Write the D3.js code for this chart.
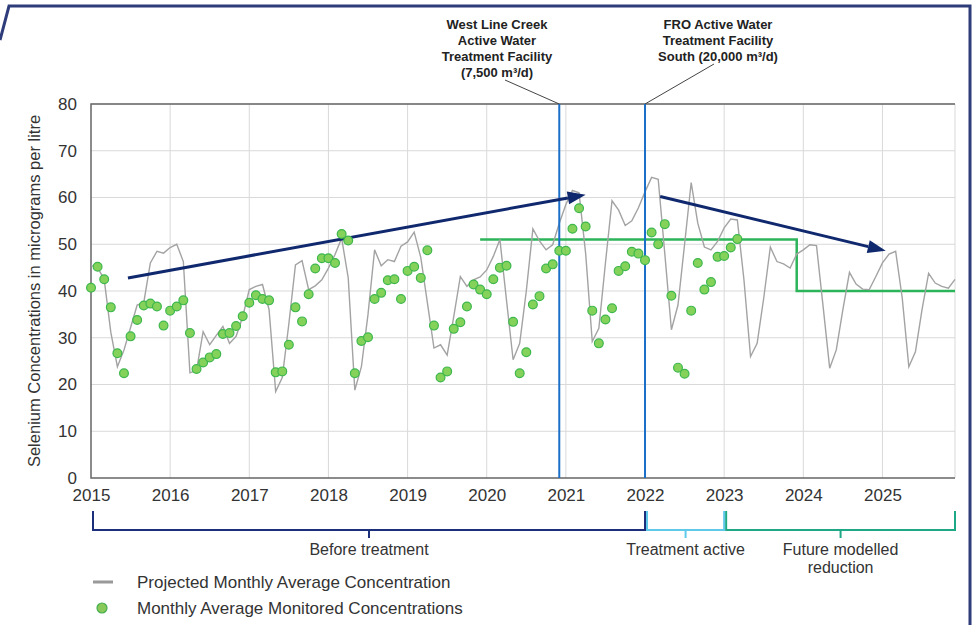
<!DOCTYPE html>
<html>
<head>
<meta charset="utf-8">
<script src="https://cdn.jsdelivr.net/npm/d3@7"></script>
<style>
  html, body { margin: 0; padding: 0; background: #fff; }
  svg { display: block; font-family: "Liberation Sans", Arial, sans-serif; }
</style>
</head>
<body>
<div id="chart"></div>
<script>
// month index 0 = Jan 2015
const years = [2015, 2016, 2017, 2018, 2019, 2020, 2021, 2022, 2023, 2024, 2025];
const yTicks = [0, 10, 20, 30, 40, 50, 60, 70, 80];

// Projected Monthly Average Concentration (Jan 2015 - Dec 2025)
const projected = [
  45.5, 45, 42.5, 31.2, 23.8, 27.4, 32.2, 37, 37.5, 46, 48.5, 48.1,
  49.3, 50, 46.3, 22.5, 23, 31.3, 28.5, 30.5, 32.4, 28.8, 30.3, 34.5,
  40.3, 41, 41.4, 36, 18.5, 21.5, 33, 45.6, 46.5, 40.3, 41.1, 42.4,
  44.9, 47.8, 51.3, 42.8, 18.8, 23.8, 35, 48.8, 45.4, 46.7, 46.3, 49.6,
  50.5, 52.6, 47.2, 37.5, 27.8, 28.5, 26.3, 34.5, 43.1, 41, 42.4, 43,
  44.5, 47.4, 51, 38, 25.3, 28.8, 40, 53.3, 50.7, 48.8, 49.9, 54.5,
  58.5, 61.5, 61, 48, 29.2, 32, 46, 59.3, 57.3, 54, 55, 57.8,
  61.2, 64.3, 63.9, 48, 31.7, 37, 50, 63.2, 54.5, 49.4, 48.8, 50.6,
  53.5, 55.4, 55.2, 42.4, 26, 28.8, 38.5, 49.4, 46.3, 45.8, 44.9, 47.9,
  48.8, 49.9, 49.7, 36.7, 23.5, 27.4, 36, 44, 41.5, 40.4, 40.3, 43.1,
  46, 47.9, 48.5, 38.5, 23.8, 27, 36, 43.8, 41.7, 41, 40.6, 42.5
];

// Monthly Average Monitored Concentrations (Jan 2015 - Mar 2023)
const monitored = [
  40.7, 45.2, 42.5, 36.5, 26.7, 22.4, 30.3, 33.8, 36.9, 37.3, 36.7, 32.6,
  35.8, 36.7, 38.0, 31.0, 23.3, 24.7, 25.8, 26.5, 30.8, 31.0, 32.5, 34.6,
  37.5, 39.1, 38.3, 38.0, 22.6, 22.8, 28.5, 36.5, 33.5, 39.3, 44.8, 47.0,
  47.0, 46.0, 52.2, 50.8, 22.4, 29.3, 30.1, 38.3, 39.6, 42.3, 42.5, 38.3,
  44.3, 45.2, 42.8, 48.7, 32.6, 21.5, 22.8, 31.9, 33.3, 36.7, 41.4, 40.3,
  39.3, 42.5, 45.0, 45.4, 33.4, 22.4, 26.9, 37.1, 38.9, 44.8, 45.7, 48.6,
  48.6, 53.3, 57.7, 53.8, 35.8, 28.8, 33.9, 36.3, 44.3, 45.3, 48.4, 48.0,
  46.6, 52.5, 50.0, 54.3, 39.0, 23.6, 22.3, 35.8, 46.0, 40.3, 41.9, 47.3,
  47.5, 49.3, 51.1
];

// stepped target line
const targetMonths = [59, 107, 107, 131];
const targetValues = [51, 51, 40, 40];

// treatment facilities coming online
const facilityMonths = [71, 84];
const facilityLabels = [
  ["West Line Creek", "Active Water", "Treatment Facility", "(7,500 m³/d)"],
  ["FRO Active Water", "Treatment Facility", "South (20,000 m³/d)"]
];

// trend arrows [month, value]
const arrowStarts = [[5.6, 42.8], [86.3, 60.2]];
const arrowEnds = [[75, 60.6], [120.5, 48.6]];

// phases under the axis
const phaseNames = [["Before treatment"], ["Treatment active"], ["Future modelled", "reduction"]];
const phaseStarts = [0, 84, 96];
const phaseEnds = [84, 96, 131];
const phaseColors = ["#1c2f7c", "#5fc9ea", "#1fa886"];

const W = 976, H = 625;
const svg = d3.select("#chart").append("svg")
  .attr("width", W).attr("height", H);

const x = d3.scaleLinear().domain([0, 131]).range([91, 955]);
const y = d3.scaleLinear().domain([0, 80]).range([478, 104]);

// outer callout frame
const frameColor = "#2e3d7a";
svg.append("path")
  .attr("d", `M0,40 L9,6 L970,6 L970,${H}`)
  .attr("fill", "none")
  .attr("stroke", frameColor)
  .attr("stroke-width", 3);

// gridlines
svg.append("g").selectAll("line")
  .data(yTicks.slice(1))
  .join("line")
  .attr("x1", x(0)).attr("x2", x(131))
  .attr("y1", d => y(d)).attr("y2", d => y(d))
  .attr("stroke", "#d9d9d9").attr("stroke-width", 1);

svg.append("g").selectAll("line")
  .data(years.slice(1).map(yr => (yr - 2015) * 12).concat([131]))
  .join("line")
  .attr("x1", d => x(d)).attr("x2", d => x(d))
  .attr("y1", y(0)).attr("y2", y(80))
  .attr("stroke", "#d9d9d9").attr("stroke-width", 1);

// plot frame (left, top, bottom darker)
svg.append("path")
  .attr("d", `M${x(131)},${y(80)} L${x(0)},${y(80)} L${x(0)},${y(0)} L${x(131)},${y(0)}`)
  .attr("fill", "none")
  .attr("stroke", "#666")
  .attr("stroke-width", 1.5);

// axes labels
const yAxis = d3.axisLeft(y).tickValues(yTicks).tickSize(0).tickPadding(14);
svg.append("g")
  .attr("transform", `translate(${x(0)},0)`)
  .call(yAxis)
  .call(g => g.select(".domain").remove())
  .selectAll("text")
  .attr("font-size", 17)
  .attr("fill", "#333")
  .attr("font-family", "Liberation Sans, Arial, sans-serif");

const xAxis = d3.axisBottom(x)
  .tickValues(years.map(yr => (yr - 2015) * 12))
  .tickFormat((d, i) => years[i])
  .tickSize(0).tickPadding(11);
svg.append("g")
  .attr("transform", `translate(0,${y(0)})`)
  .call(xAxis)
  .call(g => g.select(".domain").remove())
  .selectAll("text")
  .attr("font-size", 17)
  .attr("fill", "#333")
  .attr("font-family", "Liberation Sans, Arial, sans-serif");

svg.append("text")
  .attr("transform", `translate(40,${(y(0) + y(80)) / 2}) rotate(-90)`)
  .attr("text-anchor", "middle")
  .attr("font-size", 16.5)
  .attr("fill", "#333")
  .text("Selenium Concentrations in micrograms per litre");

// target step line
const targetPts = targetMonths.map((m, i) => [m, targetValues[i]]);
svg.append("path")
  .datum(targetPts)
  .attr("d", d3.line().x(d => x(d[0])).y(d => y(d[1])))
  .attr("fill", "none")
  .attr("stroke", "#2cb45a")
  .attr("stroke-width", 2.5);

// projected line
svg.append("path")
  .datum(projected)
  .attr("d", d3.line().x((d, i) => x(i)).y(d => y(d)))
  .attr("fill", "none")
  .attr("stroke", "#a3a3a3")
  .attr("stroke-width", 1.4);

// facility lines + annotations
facilityMonths.forEach((m, k) => {
  svg.append("line")
    .attr("x1", x(m)).attr("x2", x(m))
    .attr("y1", y(80)).attr("y2", y(0))
    .attr("stroke", "#1b6fc8")
    .attr("stroke-width", 2);
});

const noteCx = [497, 718];
const noteTop = [29, 29];
facilityLabels.forEach((lines, k) => {
  const t = svg.append("text")
    .attr("text-anchor", "middle")
    .attr("font-size", 13)
    .attr("font-weight", "bold")
    .attr("fill", "#222");
  lines.forEach((ln, j) => {
    t.append("tspan").attr("x", noteCx[k]).attr("y", noteTop[k] + j * 16).text(ln);
  });
});
// leader lines
svg.append("line")
  .attr("x1", 505).attr("y1", 80).attr("x2", x(facilityMonths[0])).attr("y2", y(80))
  .attr("stroke", "#444").attr("stroke-width", 1);
svg.append("line")
  .attr("x1", 714).attr("y1", 64).attr("x2", x(facilityMonths[1])).attr("y2", y(80))
  .attr("stroke", "#444").attr("stroke-width", 1);

// trend arrows
const arrowColor = "#10296e";
arrowStarts.forEach((s, i) => {
  const e = arrowEnds[i];
  const x0 = x(s[0]), y0 = y(s[1]), x1 = x(e[0]), y1 = y(e[1]);
  const ang = Math.atan2(y1 - y0, x1 - x0);
  const len = 18, hw = 6.5;
  const bx = x1 - len * Math.cos(ang), by = y1 - len * Math.sin(ang);
  svg.append("line")
    .attr("x1", x0).attr("y1", y0).attr("x2", bx).attr("y2", by)
    .attr("stroke", arrowColor).attr("stroke-width", 3);
  const px = -Math.sin(ang) * hw, py = Math.cos(ang) * hw;
  svg.append("path")
    .attr("d", `M${x1},${y1} L${bx + px},${by + py} L${bx - px},${by - py} Z`)
    .attr("fill", arrowColor);
});

// monitored dots
svg.append("g").selectAll("circle")
  .data(monitored)
  .join("circle")
  .attr("cx", (d, i) => x(i))
  .attr("cy", d => y(d))
  .attr("r", 4.4)
  .attr("fill", "#84d25a")
  .attr("stroke", "#3db74c")
  .attr("stroke-width", 1.2);

// phase brackets
const bTop = 511, bBot = 530;
phaseStarts.forEach((s, i) => {
  const x0 = x(s) + 2, x1 = x(phaseEnds[i]);
  const mid = (x0 + x1) / 2;
  svg.append("path")
    .attr("d", `M${x0},${bTop} L${x0},${bBot} L${x1},${bBot} L${x1},${bTop} M${mid},${bBot} L${mid},${bBot + 8}`)
    .attr("fill", "none")
    .attr("stroke", phaseColors[i])
    .attr("stroke-width", 2);
  const t = svg.append("text")
    .attr("text-anchor", "middle")
    .attr("font-size", 16)
    .attr("fill", "#333");
  phaseNames[i].forEach((ln, j) => {
    t.append("tspan").attr("x", mid).attr("y", 555 + j * 17.5).text(ln);
  });
});

// legend
const legend = svg.append("g");
legend.append("line")
  .attr("x1", 93).attr("x2", 113).attr("y1", 582).attr("y2", 582)
  .attr("stroke", "#999").attr("stroke-width", 3);
legend.append("text")
  .attr("x", 137).attr("y", 588)
  .attr("font-size", 17).attr("fill", "#333")
  .text("Projected Monthly Average Concentration");
legend.append("circle")
  .attr("cx", 102).attr("cy", 608).attr("r", 5)
  .attr("fill", "#88c95a").attr("stroke", "#45ad4e").attr("stroke-width", 1.2);
legend.append("text")
  .attr("x", 137).attr("y", 614)
  .attr("font-size", 17).attr("fill", "#333")
  .text("Monthly Average Monitored Concentrations");
</script>
</body>
</html>
